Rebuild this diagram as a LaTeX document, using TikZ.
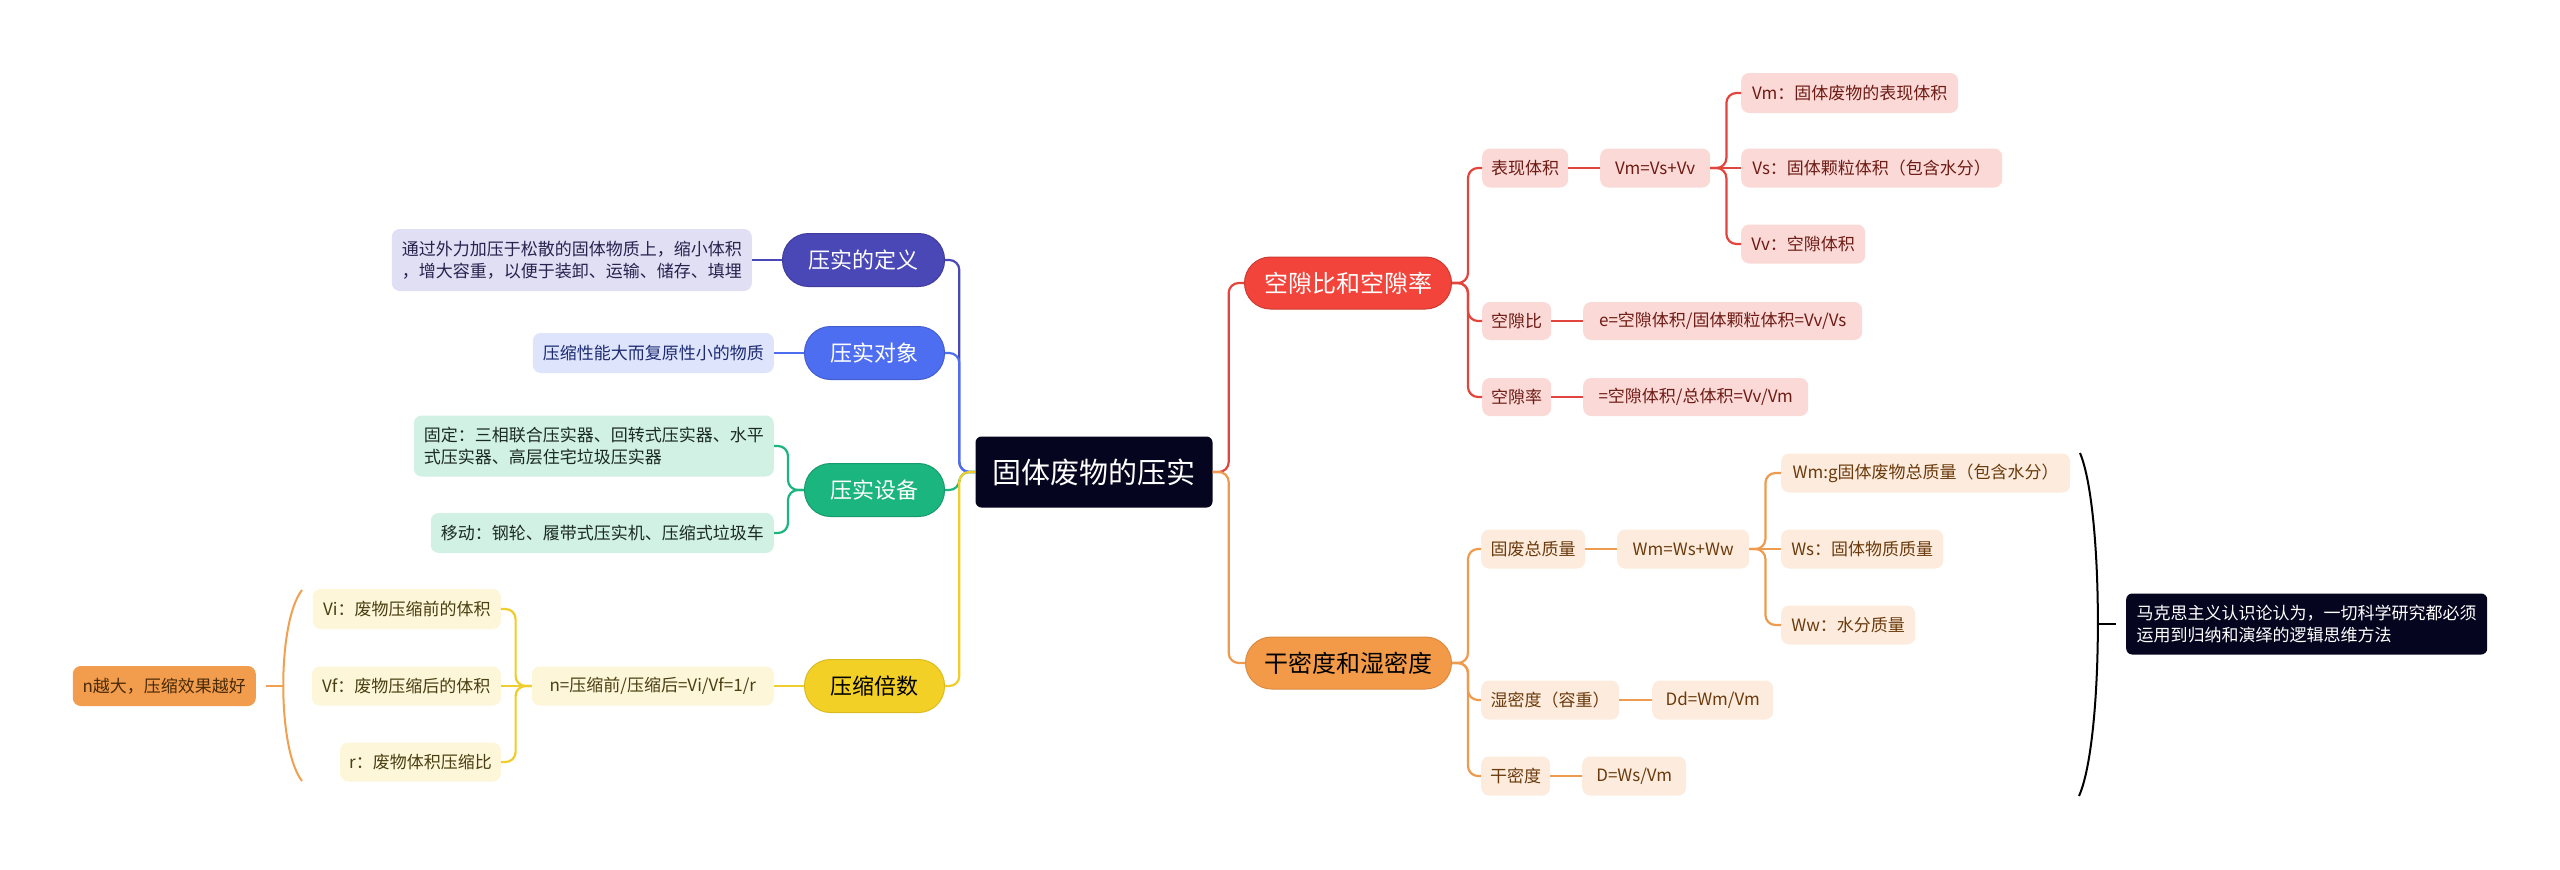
\documentclass[tikz,border=0pt]{standalone}
\usepackage{fontspec}
\setmainfont{Noto Sans CJK SC}
\usetikzlibrary{calc}
\definecolor{cCenter}{HTML}{05051F}
\definecolor{cDef}{HTML}{4A47B7}
\definecolor{cObj}{HTML}{4E6EF2}
\definecolor{cEq}{HTML}{1BB57F}
\definecolor{cRat}{HTML}{F2D026}
\definecolor{cVoid}{HTML}{F2443A}
\definecolor{cDens}{HTML}{F39A48}
\definecolor{fDef}{HTML}{E0DFF3}
\definecolor{fObj}{HTML}{DDE4FC}
\definecolor{fEq}{HTML}{D1F1E4}
\definecolor{fRat}{HTML}{FDF6D9}
\definecolor{fVoid}{HTML}{FBD9D7}
\definecolor{fDens}{HTML}{FDECDD}
\definecolor{fBig}{HTML}{F29D4E}
\definecolor{tDef}{HTML}{26234F}
\definecolor{tObj}{HTML}{1E2B73}
\definecolor{tEq}{HTML}{1B2A22}
\definecolor{tRat}{HTML}{4A3F12}
\definecolor{tVoid}{HTML}{6E1B14}
\definecolor{tDens}{HTML}{6A3A0C}
\definecolor{tBig}{HTML}{4A2A05}
\definecolor{lRat}{HTML}{EFCD2B}
\definecolor{lVoid}{HTML}{E2453C}
\definecolor{lDens}{HTML}{EE9B4F}
\definecolor{lBig}{HTML}{F0A050}
\tikzset{
  every node/.style={font=\fontsize{17}{22}\selectfont},
  topic/.style={rounded corners=26pt, minimum height=53pt, inner xsep=20pt, inner ysep=0pt, line width=1pt, font=\fontsize{22}{26}\selectfont},
  topicR/.style={topic, inner xsep=10pt, font=\fontsize{24}{29}\selectfont},
  leaf/.style={rounded corners=8pt, minimum height=39pt, inner xsep=9pt, inner ysep=0pt, align=left},
  conn/.style={line width=2.2pt, rounded corners=10pt},
  elbowR/.style={to path={(\tikztostart) -- ++(16,0) |- (\tikztotarget)}},
  elbowL/.style={to path={(\tikztostart) -- ++(-16,0) |- (\tikztotarget)}},
  brk/.style={line width=2pt},
}
\begin{document}
\begin{tikzpicture}[x=1pt,y=-1pt]
\useasboundingbox (0,0) rectangle (2560,870);
\fill[white] (0,0) rectangle (2560,870);

% central
\node[fill=cCenter, text=white, rounded corners=6pt, minimum width=237pt, minimum height=71pt, inner sep=0pt, font=\fontsize{29}{34}\selectfont] (c) at (1094,472) {固体废物的压实};

% left topics
\node[topic, fill=cDef, draw=cDef!85!black, text=white, anchor=east, minimum width=162pt] (def) at (945,260) {压实的定义};
\node[topic, fill=cObj, draw=cObj!85!black, text=white, anchor=east, minimum width=140pt] (obj) at (945,353) {压实对象};
\node[topic, fill=cEq, draw=cEq!85!black, text=white, anchor=east, minimum width=140pt] (eq) at (945,490) {压实设备};
\node[topic, fill=cRat, draw=cRat!90!black, text=black, anchor=east, minimum width=140pt] (rat) at (945,686) {压缩倍数};

% left leaves
\node[leaf, fill=fDef, text=tDef, anchor=east, minimum width=360pt, minimum height=62pt] (deft) at (752,260) {通过外力加压于松散的固体物质上，缩小体积\\，增大容重，以便于装卸、运输、储存、填埋};
\node[leaf, fill=fObj, text=tObj, anchor=east, minimum width=241pt, minimum height=40pt] (objt) at (774,353) {压缩性能大而复原性小的物质};
\node[leaf, fill=fEq, text=tEq, anchor=east, minimum width=360pt, minimum height=61pt] (fix) at (774,446) {固定：三相联合压实器、回转式压实器、水平\\式压实器、高层住宅垃圾压实器};
\node[leaf, fill=fEq, text=tEq, anchor=east, minimum width=343pt, minimum height=40pt] (mob) at (774,533) {移动：钢轮、履带式压实机、压缩式垃圾车};
\node[leaf, fill=fRat, text=tRat, anchor=east, minimum width=242pt] (nf) at (774,686) {n=压缩前/压缩后=Vi/Vf=1/r};
\node[leaf, fill=fRat, text=tRat, anchor=east, minimum width=188pt, minimum height=40pt] (vi) at (501,609) {Vi：废物压缩前的体积};
\node[leaf, fill=fRat, text=tRat, anchor=east, minimum width=189pt] (vf) at (501,686) {Vf：废物压缩后的体积};
\node[leaf, fill=fRat, text=tRat, anchor=east, minimum width=160pt] (rr) at (501,762) {r：废物体积压缩比};
\node[leaf, fill=fBig, text=tBig, anchor=east, minimum width=183pt, minimum height=40pt] (nbig) at (256,686) {n越大，压缩效果越好};

% right topics
\node[topicR, fill=cVoid, draw=cVoid!85!black, text=white, anchor=west, minimum width=207pt, minimum height=52pt] (void) at (1244,283) {空隙比和空隙率};
\node[topicR, fill=cDens, draw=cDens!90!black, text=black, anchor=west, minimum width=206pt, minimum height=52pt] (dens) at (1245,663) {干密度和湿密度};

% void leaves
\node[leaf, fill=fVoid, text=tVoid, anchor=west, minimum width=86pt] (bx) at (1482,168) {表现体积};
\node[leaf, fill=fVoid, text=tVoid, anchor=west, minimum width=110pt] (vmeq) at (1600,168) {Vm=Vs+Vv};
\node[leaf, fill=fVoid, text=tVoid, anchor=west, minimum width=217pt, minimum height=40pt] (vm) at (1741,93) {Vm：固体废物的表现体积};
\node[leaf, fill=fVoid, text=tVoid, anchor=west, minimum width=261pt] (vs) at (1741,168) {Vs：固体颗粒体积（包含水分）};
\node[leaf, fill=fVoid, text=tVoid, anchor=west, minimum width=124pt] (vv) at (1741,244) {Vv：空隙体积};
\node[leaf, fill=fVoid, text=tVoid, anchor=west, minimum width=67pt, minimum height=38pt] (kxb) at (1482,321) {空隙比};
\node[leaf, fill=fVoid, text=tVoid, anchor=west, minimum width=279pt, minimum height=38pt] (eeq) at (1583,321) {e=空隙体积/固体颗粒体积=Vv/Vs};
\node[leaf, fill=fVoid, text=tVoid, anchor=west, minimum width=67pt, minimum height=38pt] (kxl) at (1482,397) {空隙率};
\node[leaf, fill=fVoid, text=tVoid, anchor=west, minimum width=225pt, minimum height=38pt] (req) at (1583,397) {=空隙体积/总体积=Vv/Vm};

% density leaves
\node[leaf, fill=fDens, text=tDens, anchor=west, minimum width=104pt] (gfz) at (1481,549) {固废总质量};
\node[leaf, fill=fDens, text=tDens, anchor=west, minimum width=132pt] (wmeq) at (1617,549) {Wm=Ws+Ww};
\node[leaf, fill=fDens, text=tDens, anchor=west, minimum width=289pt] (wmg) at (1781,473) {Wm:g固体废物总质量（包含水分）};
\node[leaf, fill=fDens, text=tDens, anchor=west, minimum width=162pt] (ws) at (1781,549) {Ws：固体物质质量};
\node[leaf, fill=fDens, text=tDens, anchor=west, minimum width=134pt] (ww) at (1781,625) {Ww：水分质量};
\node[leaf, fill=fDens, text=tDens, anchor=west, minimum width=138pt] (smd) at (1481,700) {湿密度（容重）};
\node[leaf, fill=fDens, text=tDens, anchor=west, minimum width=121pt] (dd) at (1652,700) {Dd=Wm/Vm};
\node[leaf, fill=fDens, text=tDens, anchor=west, minimum width=69pt] (gmd) at (1481,776) {干密度};
\node[leaf, fill=fDens, text=tDens, anchor=west, minimum width=104pt] (deq) at (1582,776) {D=Ws/Vm};

% note
\node[leaf, fill=cCenter, text=white, anchor=west, minimum width=361pt, minimum height=61pt, rounded corners=6pt] (note) at (2126,624) {马克思主义认识论认为，一切科学研究都必须\\运用到归纳和演绎的逻辑思维方法};

% connectors: centre to topics
\draw[conn, cDef] (c.west) to[elbowL] (def.east);
\draw[conn, cObj] (c.west) to[elbowL] (obj.east);
\draw[conn, cEq] (c.west) to[elbowL] (eq.east);
\draw[conn, lRat] (c.west) to[elbowL] (rat.east);
\draw[conn, lVoid] (c.east) to[elbowR] (void.west);
\draw[conn, lDens] (c.east) to[elbowR] (dens.west);

% left branches
\draw[conn, cDef] (def.west) -- (deft.east);
\draw[conn, cObj] (obj.west) -- (objt.east);
\draw[conn, cEq] (eq.west) to[elbowL] (fix.east);
\draw[conn, cEq] (eq.west) to[elbowL] (mob.east);
\draw[conn, lRat] (rat.west) -- (nf.east);
\draw[conn, lRat] (nf.west) to[elbowL] (vi.east);
\draw[conn, lRat] (nf.west) -- (vf.east);
\draw[conn, lRat] (nf.west) to[elbowL] (rr.east);

% void branches
\draw[conn, lVoid] (void.east) to[elbowR] (bx.west);
\draw[conn, lVoid] (void.east) to[elbowR] (kxb.west);
\draw[conn, lVoid] (void.east) to[elbowR] (kxl.west);
\draw[conn, lVoid] (bx.east) -- (vmeq.west);
\draw[conn, lVoid] (vmeq.east) to[elbowR] (vm.west);
\draw[conn, lVoid] (vmeq.east) -- (vs.west);
\draw[conn, lVoid] (vmeq.east) to[elbowR] (vv.west);
\draw[conn, lVoid] (kxb.east) -- (eeq.west);
\draw[conn, lVoid] (kxl.east) -- (req.west);

% density branches
\draw[conn, lDens] (dens.east) to[elbowR] (gfz.west);
\draw[conn, lDens] (dens.east) to[elbowR] (smd.west);
\draw[conn, lDens] (dens.east) to[elbowR] (gmd.west);
\draw[conn, lDens] (gfz.east) -- (wmeq.west);
\draw[conn, lDens] (wmeq.east) to[elbowR] (wmg.west);
\draw[conn, lDens] (wmeq.east) -- (ws.west);
\draw[conn, lDens] (wmeq.east) to[elbowR] (ww.west);
\draw[conn, lDens] (smd.east) -- (dd.west);
\draw[conn, lDens] (gmd.east) -- (deq.west);

% summary brackets
\coordinate (ob) at (283,686);
\draw[brk, lBig] (302,590) .. controls (277,622) and (277,749) .. (302,781);
\draw[brk, lBig] ([xshift=10pt]nbig.east) -- (ob);
\coordinate (bb) at (2098,624);
\draw[brk, black] (2080,453) .. controls (2104,510) and (2104,740) .. (2079,796);
\draw[brk, black] (bb) -- ([xshift=-10pt]note.west);
\end{tikzpicture}
\end{document}
